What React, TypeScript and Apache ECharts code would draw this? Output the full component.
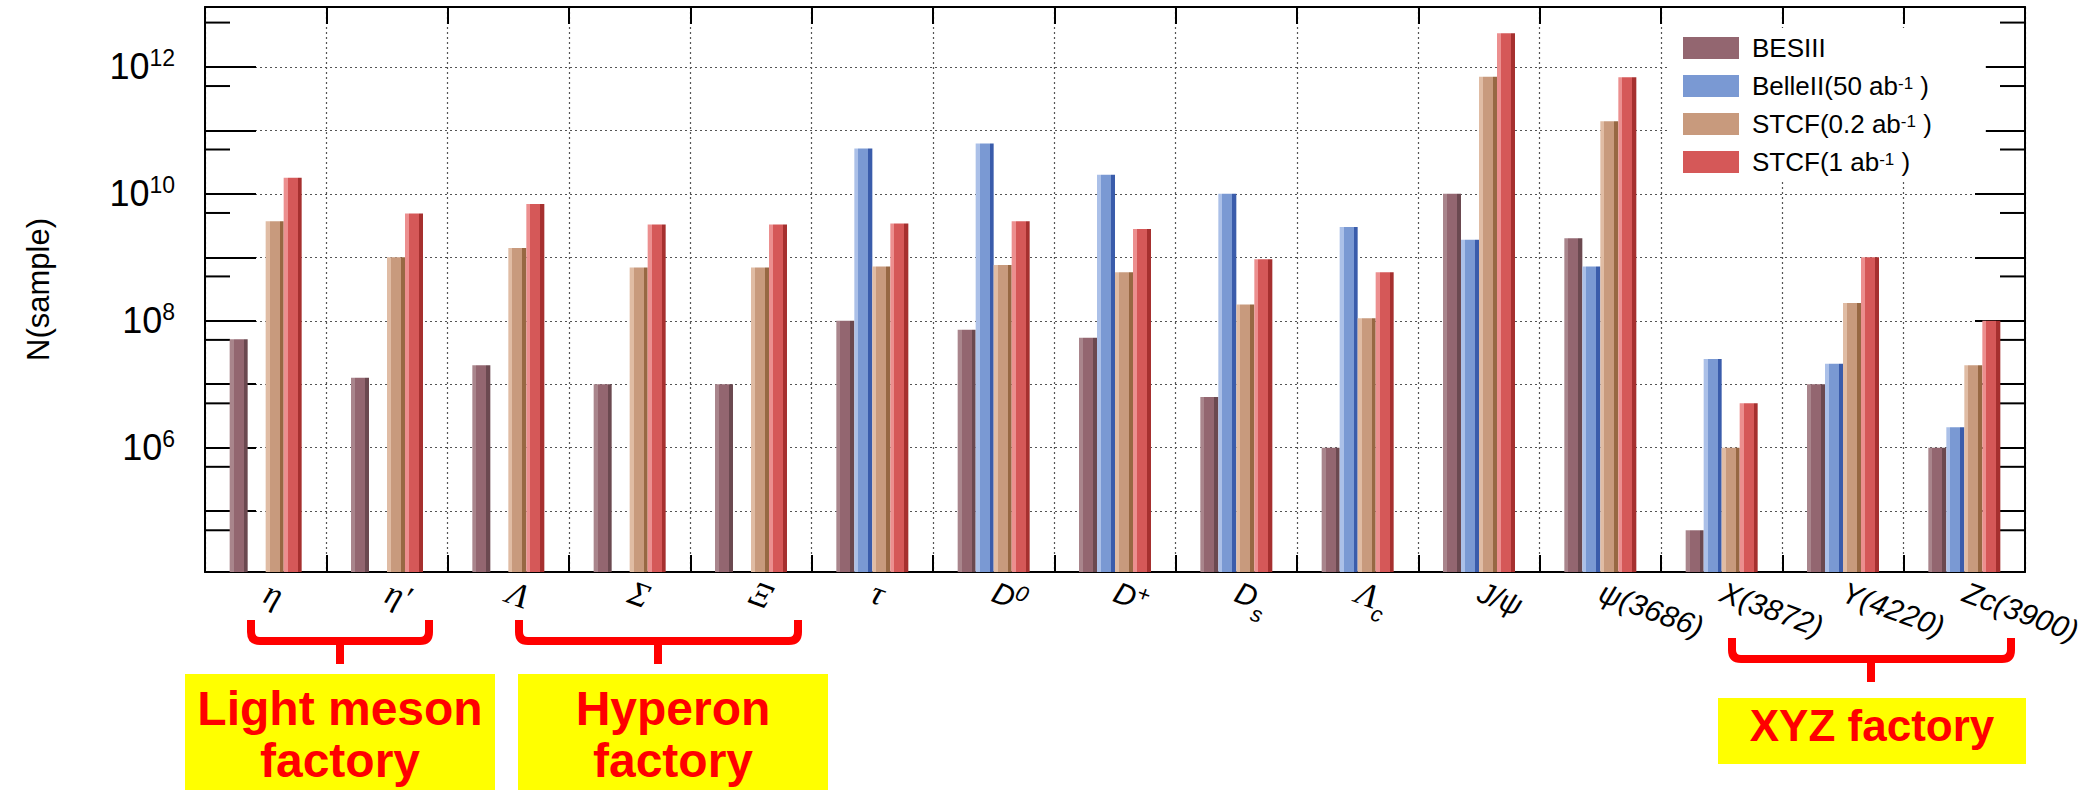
import React, { useEffect, useRef } from "react";
import * as echarts from "echarts";

// Particle samples (x categories) and how each label is typeset
const categories = ["η", "η′", "Λ", "Σ", "Ξ", "τ", "D0", "D+", "Ds", "Λc", "J/ψ", "ψ(3686)", "X(3872)", "Y(4220)", "Zc(3900)"];
const categoryMarkup = [
  "{g|η}", "{g|η′}", "{g|Λ}", "{g|Σ}", "{g|Ξ}", "{g|τ}",
  "{n|D}{sup|0}", "{n|D}{sup|+}", "{n|D}{sub|s}", "{g|Λ}{sub|c}",
  "{n|J/ψ}", "{n|ψ(3686)}", "{n|X(3872)}", "{n|Y(4220)}", "{n|Zc(3900)}",
];

// Experiments
const seriesNames = ["BESIII", "BelleII(50 ab-1)", "STCF(0.2 ab-1)", "STCF(1 ab-1)"];
const legendMarkup = [
  "{t|BESIII}",
  "{t|BelleII(50 ab}{s|-1}{t| )}",
  "{t|STCF(0.2 ab}{s|-1}{t| )}",
  "{t|STCF(1 ab}{s|-1}{t| )}",
];

// Number of produced samples
const besiii = [5.1e7, 1.26e7, 2e7, 1e7, 1e7, 1e8, 7.2e7, 5.4e7, 6.3e6, 1e6, 1e10, 2e9, 5e4, 1e7, 1e6];
const belle2 = [null, null, null, null, null, 5.2e10, 6.2e10, 2e10, 1e10, 3e9, 1.9e9, 7.2e8, 2.5e7, 2.1e7, 2.1e6];
const stcf02 = [3.7e9, 1e9, 1.4e9, 6.9e8, 6.9e8, 7.2e8, 7.6e8, 5.8e8, 1.8e8, 1.1e8, 7e11, 1.4e11, 1e6, 1.9e8, 2e7];
const stcf1 = [1.8e10, 4.9e9, 6.9e9, 3.3e9, 3.3e9, 3.4e9, 3.7e9, 2.8e9, 9.3e8, 5.8e8, 3.4e12, 6.9e11, 5e6, 1e9, 1e8];
const seriesValues = [besiii, belle2, stcf02, stcf1];

// Y range and the half-decade minor ticks (5 x 10^n)
const yMin = 1.1e4;
const yMax = 8.8e12;
const minorTicks = [5e4, 5e5, 5e6, 5e7, 5e8, 5e9, 5e10, 5e11, 5e12];

// Bar shading: [light edge, body, dark edge]
const palette = [
  ["#a9858c", "#936670", "#6b4950"],
  ["#abc0e8", "#7a99d3", "#3a5cab"],
  ["#e0bca4", "#c89a7d", "#976843"],
  ["#ec8f8f", "#d55858", "#a6302f"],
];

const SANS = "'Liberation Sans', Arial, Helvetica, sans-serif";
const NARROW = "'Liberation Sans Narrow', 'Arial Narrow', 'Liberation Sans', sans-serif";
const SERIF = "'Liberation Serif', 'Times New Roman', serif";

// Group braces under the axis
const braces = [
  { L: 251, R: 429, T: 620, H: 641, C: 340, B: 664 },
  { L: 519, R: 798, T: 620, H: 641, C: 658, B: 664 },
  { L: 1732, R: 2011, T: 638, H: 659, C: 1871, B: 682 },
];
braces.forEach((b, i) => {
  const r = 9;
  const d =
    `M${b.L} ${b.T} L${b.L} ${b.H - r} Q${b.L} ${b.H} ${b.L + r} ${b.H} ` +
    `L${b.R - r} ${b.H} Q${b.R} ${b.H} ${b.R} ${b.H - r} L${b.R} ${b.T} ` +
    `M${b.C} ${b.H} L${b.C} ${b.B}`;
  echarts.graphic.registerShape("brace" + i, echarts.graphic.extendPath(d, {}));
});

const factoryBoxes = [
  { x: 185, y: 674, w: 310, h: 116, text: "Light meson\nfactory", cx: 340, cy: 734, size: 48, lh: 52 },
  { x: 518, y: 674, w: 310, h: 116, text: "Hyperon\nfactory", cx: 673, cy: 734, size: 48, lh: 52 },
  { x: 1718, y: 698, w: 308, h: 66, text: "XYZ factory", cx: 1872, cy: 725, size: 44, lh: 48 },
];

function barGradient(c: string[]) {
  return new echarts.graphic.LinearGradient(0, 0, 1, 0, [
    { offset: 0, color: c[0] },
    { offset: 0.22, color: c[0] },
    { offset: 0.22, color: c[1] },
    { offset: 0.78, color: c[1] },
    { offset: 0.78, color: c[2] },
    { offset: 1, color: c[2] },
  ]);
}

export default function App() {
  const ref = useRef<HTMLDivElement>(null);

  useEffect(() => {
    if (!ref.current) return;
    const chart = echarts.init(ref.current, null, { renderer: "svg" });

    const gridLine = { show: true, lineStyle: { color: "#555", width: 1.2, type: [2, 3] as any } };

    const barSeries = seriesNames.map((name, i) => ({
      name,
      type: "bar",
      xAxisIndex: 0,
      yAxisIndex: 0,
      barWidth: 18,
      barGap: "0%",
      data: seriesValues[i].map((v) => (v == null ? "-" : v)),
      itemStyle: { color: barGradient(palette[i]) },
      z: 3,
    }));

    const option: any = {
      animation: false,
      backgroundColor: "#fff",
      textStyle: { fontFamily: SANS },
      grid: { left: 205, right: 75, top: 7, bottom: 218, containLabel: false, outerBoundsMode: "none" },
      legend: {
        orient: "vertical",
        left: 1668,
        top: 28,
        padding: [7, 54, 7, 15],
        backgroundColor: "#fff",
        itemWidth: 56,
        itemHeight: 22,
        itemGap: 12,
        icon: "rect",
        selectedMode: false,
        data: seriesNames.map((n, i) => ({ name: n, itemStyle: { color: palette[i][1] } })),
        formatter: (name: string) => legendMarkup[seriesNames.indexOf(name)],
        textStyle: {
          color: "#000",
          padding: [0, 0, 0, 8],
          rich: {
            t: { fontSize: 26, lineHeight: 22, color: "#000", fontFamily: SANS },
            s: { fontSize: 17, lineHeight: 16, verticalAlign: "top", color: "#000", fontFamily: SANS },
          },
        },
        z: 10,
      },
      xAxis: [
        {
          type: "category",
          data: categories,
          position: "bottom",
          boundaryGap: true,
          axisLine: { show: true, lineStyle: { color: "#000", width: 2 } },
          axisTick: { show: true, inside: true, length: 17, interval: 0, alignWithLabel: false, lineStyle: { color: "#000", width: 2 } },
          splitLine: { ...gridLine, interval: 0 },
          axisLabel: {
            interval: 0,
            rotate: -20,
            margin: 19,
            hideOverlap: false,
            formatter: (_v: string, idx: number) => categoryMarkup[idx],
            rich: {
              g: { fontFamily: SERIF, fontStyle: "italic", fontSize: 34, color: "#000", lineHeight: 36 },
              n: { fontFamily: SANS, fontStyle: "italic", fontSize: 30, color: "#000", lineHeight: 36 },
              sup: { fontFamily: SANS, fontStyle: "italic", fontSize: 22, color: "#000", lineHeight: 22, verticalAlign: "top" },
              sub: { fontFamily: SANS, fontStyle: "italic", fontSize: 22, color: "#000", lineHeight: 18, verticalAlign: "bottom", padding: [0, 0, -8, 0] },
            },
          },
        },
        {
          type: "category",
          data: categories,
          position: "top",
          boundaryGap: true,
          axisLine: { show: true, lineStyle: { color: "#000", width: 2 } },
          axisTick: { show: true, inside: true, length: 17, interval: 0, lineStyle: { color: "#000", width: 2 } },
          splitLine: { show: false },
          axisLabel: { show: false },
        },
      ],
      yAxis: [
        {
          type: "log",
          logBase: 10,
          min: yMin,
          max: yMax,
          position: "left",
          name: "N(sample)",
          nameLocation: "middle",
          nameGap: 151,
          nameTextStyle: { fontSize: 31, color: "#000", fontFamily: SANS },
          axisLine: { show: true, lineStyle: { color: "#000", width: 2 } },
          axisTick: { show: true, inside: true, length: 51, lineStyle: { color: "#000", width: 2 } },
          minorTick: { show: false },
          splitLine: gridLine,
          axisLabel: {
            margin: 30,
            showMinLabel: false,
            showMaxLabel: false,
            formatter: (v: number) => {
              const lg = Math.log10(v);
              const e = Math.round(lg);
              if (Math.abs(lg - e) > 1e-6 || e % 2 !== 0) return "";
              return `{b|10}{e|${e}}`;
            },
            rich: {
              b: { fontSize: 36, lineHeight: 40, color: "#000", fontFamily: NARROW },
              e: { fontSize: 23, lineHeight: 22, verticalAlign: "top", color: "#000", fontFamily: NARROW },
            },
          },
        },
        {
          type: "log",
          logBase: 10,
          min: yMin,
          max: yMax,
          position: "right",
          axisLine: { show: true, lineStyle: { color: "#000", width: 2 } },
          axisTick: { show: true, inside: true, length: 50, lineStyle: { color: "#000", width: 2 } },
          splitLine: { show: false },
          axisLabel: { show: false },
        },
      ],
      series: [
        ...barSeries,
        {
          name: "minor ticks",
          type: "custom",
          xAxisIndex: 0,
          yAxisIndex: 0,
          silent: true,
          z: 2,
          data: minorTicks.map((v) => [0, v]),
          renderItem: (params: any, api: any) => {
            const y = api.coord([0, api.value(1)])[1];
            const cs = params.coordSys;
            const st = { stroke: "#000", lineWidth: 2 };
            return {
              type: "group",
              children: [
                { type: "line", shape: { x1: cs.x, y1: y, x2: cs.x + 25, y2: y }, style: st },
                { type: "line", shape: { x1: cs.x + cs.width - 25, y1: y, x2: cs.x + cs.width, y2: y }, style: st },
              ],
            };
          },
        },
      ],
      graphic: [
        ...braces.map((_b, i) => ({
          type: "brace" + i,
          x: 0,
          y: 0,
          silent: true,
          style: { stroke: "#ff0000", fill: null, lineWidth: 8, lineJoin: "round", lineCap: "butt" },
        })),
        ...factoryBoxes.map((b) => ({
          type: "rect",
          silent: true,
          shape: { x: b.x, y: b.y, width: b.w, height: b.h },
          style: { fill: "#ffff00" },
        })),
        ...factoryBoxes.map((b) => ({
          type: "text",
          silent: true,
          x: b.cx,
          y: b.cy,
          style: {
            text: b.text,
            fill: "#ff0000",
            fontSize: b.size,
            fontWeight: "bold",
            fontFamily: SANS,
            align: "center",
            verticalAlign: "middle",
            lineHeight: b.lh,
          },
        })),
      ],
    };

    chart.setOption(option);
    return () => chart.dispose();
  }, []);

  return (
    <div
      ref={ref}
      style={{ position: "fixed", left: 0, top: 0, width: 2100, height: 790, background: "#fff" }}
    />
  );
}
